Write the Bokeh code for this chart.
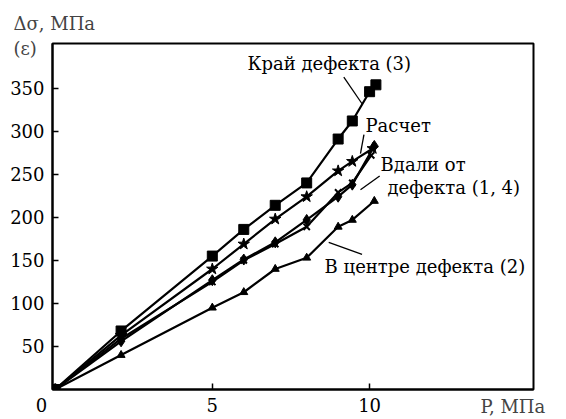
from bokeh.plotting import figure
from bokeh.models import Label, FixedTicker, Range1d, Title
from bokeh.embed import file_html
from bokeh.resources import INLINE

# ---- data ----
P_edge = [0, 2.1, 5, 6, 7, 8, 9, 9.45, 10.0, 10.2]
S_edge = [0, 68, 155, 186, 214, 240, 291, 312, 346, 354]          # Край дефекта (3)

P_calc = [0, 2.1, 5, 6, 7, 8, 9, 9.45, 10.1]
S_calc = [0, 63, 140, 169, 198, 224, 254, 265, 280]               # Расчет

P_far1 = [0, 2.1, 5, 6, 7, 8, 9, 9.45, 10.15]
S_far1 = [0, 56, 127, 151, 171, 197, 224, 238, 283]               # Вдали от дефекта (1)

P_far4 = [0, 2.1, 5, 6, 7, 8, 9, 9.45, 10.05]
S_far4 = [0, 59, 125, 150, 169, 189, 229, 240, 272]               # Вдали от дефекта (4)

P_center = [0, 2.1, 5, 6, 7, 8, 9, 9.45, 10.15]
S_center = [0, 40, 95, 113, 140, 153, 189, 197, 219]              # В центре дефекта (2)

x_ticks = [0, 5, 10]
x_labels = {0: "0\u2002\u2002\u2002", 5: "5", 10: "10"}
y_ticks = [50, 100, 150, 200, 250, 300, 350]

FONT = "DejaVu Serif"
FS = "18px"

p = figure(width=560, height=418, output_backend="svg", toolbar_location=None,
           x_range=Range1d(-0.08, 15.21), y_range=Range1d(0, 402),
           min_border_left=52, min_border_right=27, min_border_top=43, min_border_bottom=28)
p.grid.visible = False
p.background_fill_color = "white"
p.border_fill_color = "white"
p.outline_line_color = "black"
p.outline_line_width = 2

p.title.text = "Δσ, МПа\n(ε)"
p.title.align = "left"
p.title.offset = -39
p.title.text_font = FONT
p.title.text_font_size = FS
p.title.text_font_style = "normal"
p.title.text_line_height = 1.22
p.title.standoff = -32

for ax, ticks in ((p.xaxis[0], x_ticks), (p.yaxis[0], y_ticks)):
    ax.ticker = FixedTicker(ticks=ticks)
    ax.axis_line_width = 2
    ax.axis_line_color = "black"
    ax.major_tick_in = 6
    ax.major_tick_out = 0
    ax.major_tick_line_width = 1.5
    ax.minor_tick_line_color = None
    ax.major_label_text_font = FONT
    ax.major_label_text_font_size = FS
    ax.major_label_text_color = "black"
p.xaxis.major_label_overrides = x_labels
p.xaxis.major_label_standoff = 5
p.yaxis.major_label_standoff = 8

xt = Title(text="P, МПа", align="left", offset=428, vertical_align="top", standoff=-46,
           text_font=FONT, text_font_size=FS, text_font_style="normal")
p.add_layout(xt, "below")

LW = 2.2
p.line(P_edge, S_edge, line_color="black", line_width=LW)
p.scatter(P_edge, S_edge, marker="square", size=10, color="black")

p.line(P_calc, S_calc, line_color="black", line_width=LW)
p.scatter(P_calc, S_calc, marker="star", size=12, color="black")

p.line(P_far1, S_far1, line_color="black", line_width=LW)
p.scatter(P_far1, S_far1, marker="diamond", size=11, color="black")

p.line(P_far4, S_far4, line_color="black", line_width=LW)
p.scatter(P_far4, S_far4, marker="x", size=9, line_color="black", line_width=2)

p.line(P_center, S_center, line_color="black", line_width=LW)
p.scatter(P_center, S_center, marker="triangle", size=8, color="black")

# leader lines
leaders = [
    ([9.18, 9.76], [363, 332]),
    ([9.82, 9.71], [296, 274]),
    ([10.32, 9.71], [248, 232]),
    ([8.70, 9.76], [171, 157]),
]
for lx, ly in leaders:
    p.line(lx, ly, line_color="black", line_width=1.3)

def lab(x, y, t):
    p.add_layout(Label(x=x, y=y, text=t, text_font=FONT, text_font_size=FS,
                       text_align="left", text_baseline="middle", text_color="black"))

lab(6.12, 379, "Край дефекта (3)")
lab(9.87, 307, "Расчет")
lab(10.35, 261, "Вдали от")
lab(10.57, 235, "дефекта (1, 4)")
lab(8.57, 143, "В центре дефекта (2)")

open("out.html", "w").write(file_html(p, INLINE))
